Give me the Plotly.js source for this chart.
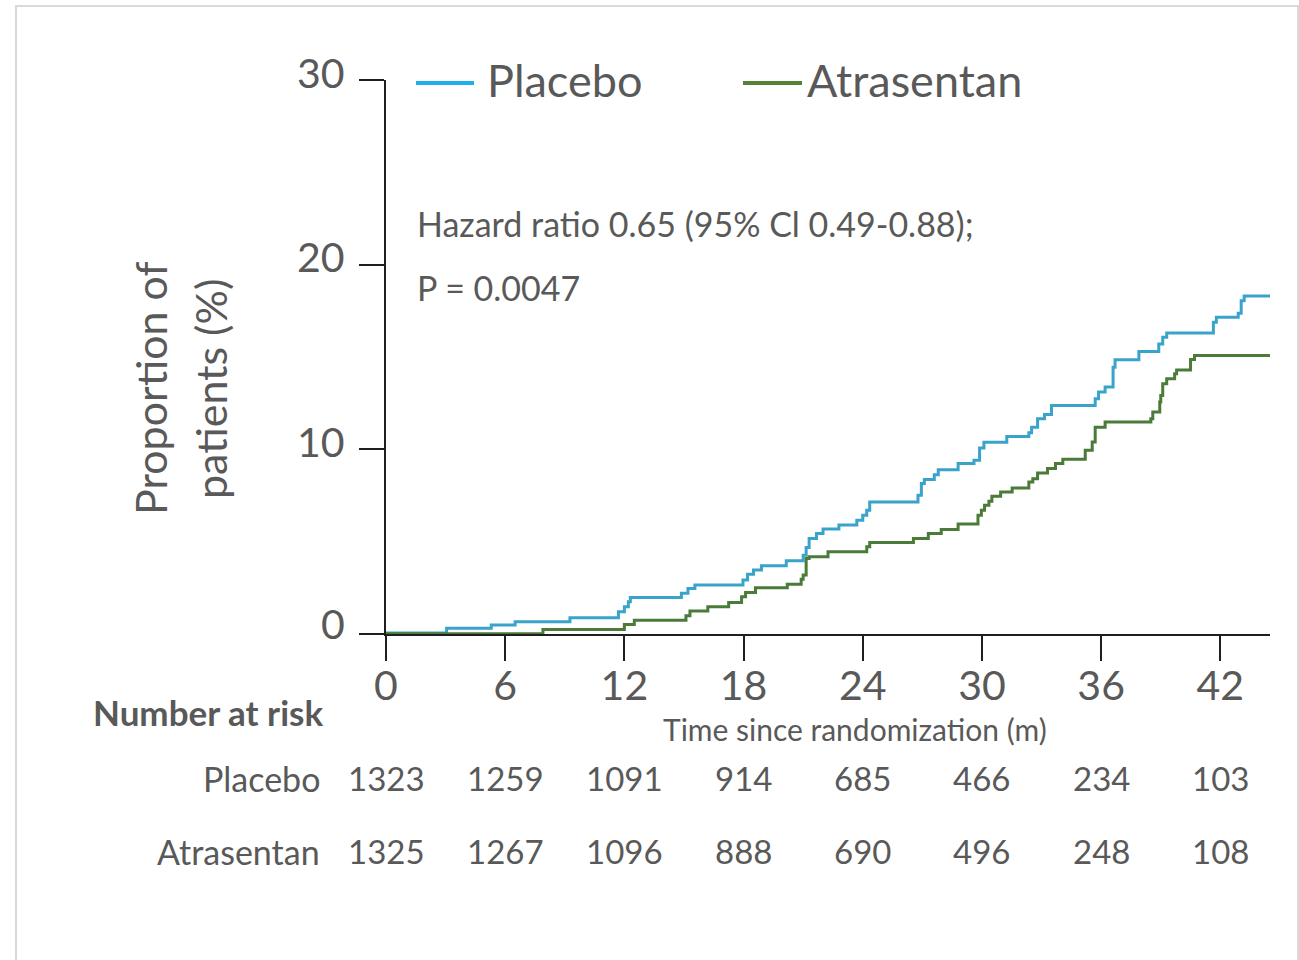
<!DOCTYPE html>
<html>
<head>
<meta charset="utf-8">
<script src="https://cdn.plot.ly/plotly-3.0.1.min.js"></script>
<style>
  html, body { margin: 0; padding: 0; background: #ffffff; }
  #frame { position: absolute; left: 15px; top: 5px; width: 1280px; height: 1000px; border: 2px solid #d9d9d9; }
  #chart { position: absolute; left: 0; top: 0; width: 1299px; height: 960px; }
</style>
</head>
<body>
<div id="frame"></div>
<div id="chart"></div>
<script>
// ---- data ----
const placeboTime = [0, 3.05, 5.3, 6.5, 9.26, 11.7, 12.0, 12.2, 12.3, 14.87, 15.2, 15.55, 17.97, 18.2, 18.5, 18.9, 20.15, 21.0, 21.15, 21.3, 21.67, 22.0, 22.8, 23.7, 24.0, 24.2, 24.35, 26.78, 26.95, 27.1, 27.6, 27.8, 28.8, 29.6, 29.88, 30.1, 31.25, 32.36, 32.5, 32.8, 33.15, 33.5, 35.7, 35.87, 36.2, 36.6, 36.7, 37.9, 38.9, 39.1, 39.3, 41.65, 41.8, 42.9, 43.05, 43.2, 44.7];
const placeboPct  = [0.05, 0.31, 0.49, 0.67, 0.88, 1.2, 1.48, 1.75, 1.98, 2.2, 2.47, 2.65, 2.92, 3.23, 3.46, 3.69, 3.96, 4.27, 4.69, 5.17, 5.44, 5.68, 5.9, 6.16, 6.43, 6.7, 7.15, 7.51, 8.15, 8.36, 8.63, 8.9, 9.23, 9.41, 10.07, 10.39, 10.7, 10.9, 11.2, 11.66, 11.88, 12.38, 12.74, 13.1, 13.37, 14.45, 14.85, 15.3, 15.7, 16.07, 16.3, 16.88, 17.15, 17.37, 18.05, 18.3, 18.3];

const atrasentanTime = [0, 7.9, 12.0, 12.5, 15.1, 15.3, 16.2, 17.25, 17.9, 18.1, 18.6, 20.2, 20.9, 21.0, 21.15, 21.3, 22.25, 24.2, 24.35, 26.55, 27.3, 27.95, 28.8, 29.8, 29.97, 30.13, 30.35, 30.5, 30.94, 31.52, 32.36, 32.56, 32.8, 33.3, 33.7, 34.07, 35.2, 35.55, 35.7, 36.2, 38.5, 38.6, 38.95, 39.0, 39.1, 39.3, 39.7, 39.8, 40.5, 40.7, 44.8];
const atrasentanPct  = [0.02, 0.25, 0.52, 0.74, 0.99, 1.24, 1.48, 1.71, 2.02, 2.25, 2.5, 2.69, 2.96, 3.19, 4.09, 4.18, 4.45, 4.72, 4.96, 5.17, 5.44, 5.66, 5.95, 6.43, 6.7, 6.97, 7.19, 7.46, 7.69, 7.91, 8.23, 8.41, 8.72, 8.96, 9.23, 9.46, 9.95, 10.4, 11.2, 11.48, 11.66, 12.02, 12.56, 12.92, 13.55, 13.82, 14.09, 14.3, 14.86, 15.08, 15.08];

const riskTimes = [0, 6, 12, 18, 24, 30, 36, 42];
const riskPlacebo = [1323, 1259, 1091, 914, 685, 466, 234, 103];
const riskAtrasentan = [1325, 1267, 1096, 888, 690, 496, 248, 108];
const yTicks = [0, 10, 20, 30];

// ---- styles ----
const FONT = 'Lato, "Open Sans", sans-serif';
const GRAY = '#595959';
const BLUE_LINE = '#3aa3c9';
const GREEN_LINE = '#4a7b38';
const BLUE_LEG = '#1fb0ec';
const GREEN_LEG = '#548235';
const px = v => (v - 386) / 884;       // pixel x -> paper x
const py = v => (634 - v) / 554;       // pixel y -> paper y

const traces = [
  { x: placeboTime, y: placeboPct, type: 'scatter', mode: 'lines', name: 'Placebo',
    line: { shape: 'hv', color: BLUE_LINE, width: 3 }, showlegend: false, hoverinfo: 'skip' },
  { x: atrasentanTime, y: atrasentanPct, type: 'scatter', mode: 'lines', name: 'Atrasentan',
    line: { shape: 'hv', color: GREEN_LINE, width: 3 }, showlegend: false, hoverinfo: 'skip' }
];

const annotations = [];
// y tick labels (sit slightly above their ticks, as in the reference)
yTicks.forEach(v => {
  annotations.push({ x: px(347), xref: 'paper', y: v, yref: 'y', yshift: v === 0 ? 11 : 8, text: String(v),
    showarrow: false, xanchor: 'right', yanchor: 'middle', font: { family: FONT, size: 41, color: GRAY } });
});
// risk table
riskTimes.forEach((t, i) => {
  annotations.push({ x: t, xref: 'x', y: py(778), yref: 'paper', text: String(riskPlacebo[i]),
    showarrow: false, xanchor: 'center', yanchor: 'middle', font: { family: FONT, size: 33, color: GRAY } });
  annotations.push({ x: t, xref: 'x', y: py(851), yref: 'paper', text: String(riskAtrasentan[i]),
    showarrow: false, xanchor: 'center', yanchor: 'middle', font: { family: FONT, size: 33, color: GRAY } });
});
annotations.push(
  { x: px(325), xref: 'paper', y: py(712), yref: 'paper', text: '<b>Number at risk</b>', showarrow: false,
    xanchor: 'right', yanchor: 'middle', font: { family: FONT, size: 35, color: GRAY } },
  { x: px(322), xref: 'paper', y: py(778), yref: 'paper', text: 'Placebo', showarrow: false,
    xanchor: 'right', yanchor: 'middle', font: { family: FONT, size: 34, color: GRAY } },
  { x: px(322), xref: 'paper', y: py(851), yref: 'paper', text: 'Atrasentan', showarrow: false,
    xanchor: 'right', yanchor: 'middle', font: { family: FONT, size: 34, color: GRAY } },
  { x: px(855), xref: 'paper', y: py(729), yref: 'paper', text: 'Time since randomization (m)', showarrow: false,
    xanchor: 'center', yanchor: 'middle', font: { family: FONT, size: 30, color: GRAY } },
  { x: px(415), xref: 'paper', y: py(223), yref: 'paper', text: 'Hazard ratio 0.65 (95% Cl 0.49-0.88);', showarrow: false,
    xanchor: 'left', yanchor: 'middle', font: { family: FONT, size: 34, color: GRAY } },
  { x: px(415), xref: 'paper', y: py(287), yref: 'paper', text: 'P = 0.0047', showarrow: false,
    xanchor: 'left', yanchor: 'middle', font: { family: FONT, size: 34, color: GRAY } },
  // y title (two lines)
  { x: px(150), xref: 'paper', y: py(388), yref: 'paper', text: 'Proportion of', textangle: -90,
    showarrow: false, xanchor: 'center', yanchor: 'middle', font: { family: FONT, size: 43, color: GRAY } },
  { x: px(211), xref: 'paper', y: py(389), yref: 'paper', text: 'patients (%)', textangle: -90,
    showarrow: false, xanchor: 'center', yanchor: 'middle', font: { family: FONT, size: 43, color: GRAY } },
  // legend text
  { x: px(485), xref: 'paper', y: py(80), yref: 'paper', text: 'Placebo', showarrow: false,
    xanchor: 'left', yanchor: 'middle', font: { family: FONT, size: 45, color: GRAY } },
  { x: px(805), xref: 'paper', y: py(80), yref: 'paper', text: 'Atrasentan', showarrow: false,
    xanchor: 'left', yanchor: 'middle', font: { family: FONT, size: 45, color: GRAY } }
);

const shapes = [
  { type: 'line', xref: 'paper', yref: 'paper', x0: px(416), x1: px(474), y0: py(83), y1: py(83),
    line: { color: BLUE_LEG, width: 4 } },
  { type: 'line', xref: 'paper', yref: 'paper', x0: px(743), x1: px(802), y0: py(83), y1: py(83),
    line: { color: GREEN_LEG, width: 4 } }
];

const layout = {
  width: 1299, height: 960,
  margin: { l: 386, r: 29, t: 80, b: 326 },
  paper_bgcolor: 'rgba(0,0,0,0)', plot_bgcolor: 'rgba(0,0,0,0)',
  showlegend: false,
  xaxis: {
    range: [0, 44.5], tickvals: riskTimes, ticktext: riskTimes.map(String),
    showgrid: false, zeroline: false, showline: true, linecolor: '#1f1f1f', linewidth: 2,
    ticks: 'outside', ticklen: 25, tickwidth: 2, tickcolor: '#1f1f1f',
    tickfont: { family: FONT, size: 41, color: GRAY }, ticklabelstandoff: -10, fixedrange: true
  },
  yaxis: {
    range: [0, 30], tickvals: yTicks, showticklabels: false,
    showgrid: false, zeroline: false, showline: true, linecolor: '#1f1f1f', linewidth: 2,
    ticks: 'outside', ticklen: 25, tickwidth: 2, tickcolor: '#1f1f1f', fixedrange: true
  },
  annotations: annotations,
  shapes: shapes
};

Plotly.newPlot('chart', traces, layout, { staticPlot: true, displayModeBar: false });
</script>
</body>
</html>
